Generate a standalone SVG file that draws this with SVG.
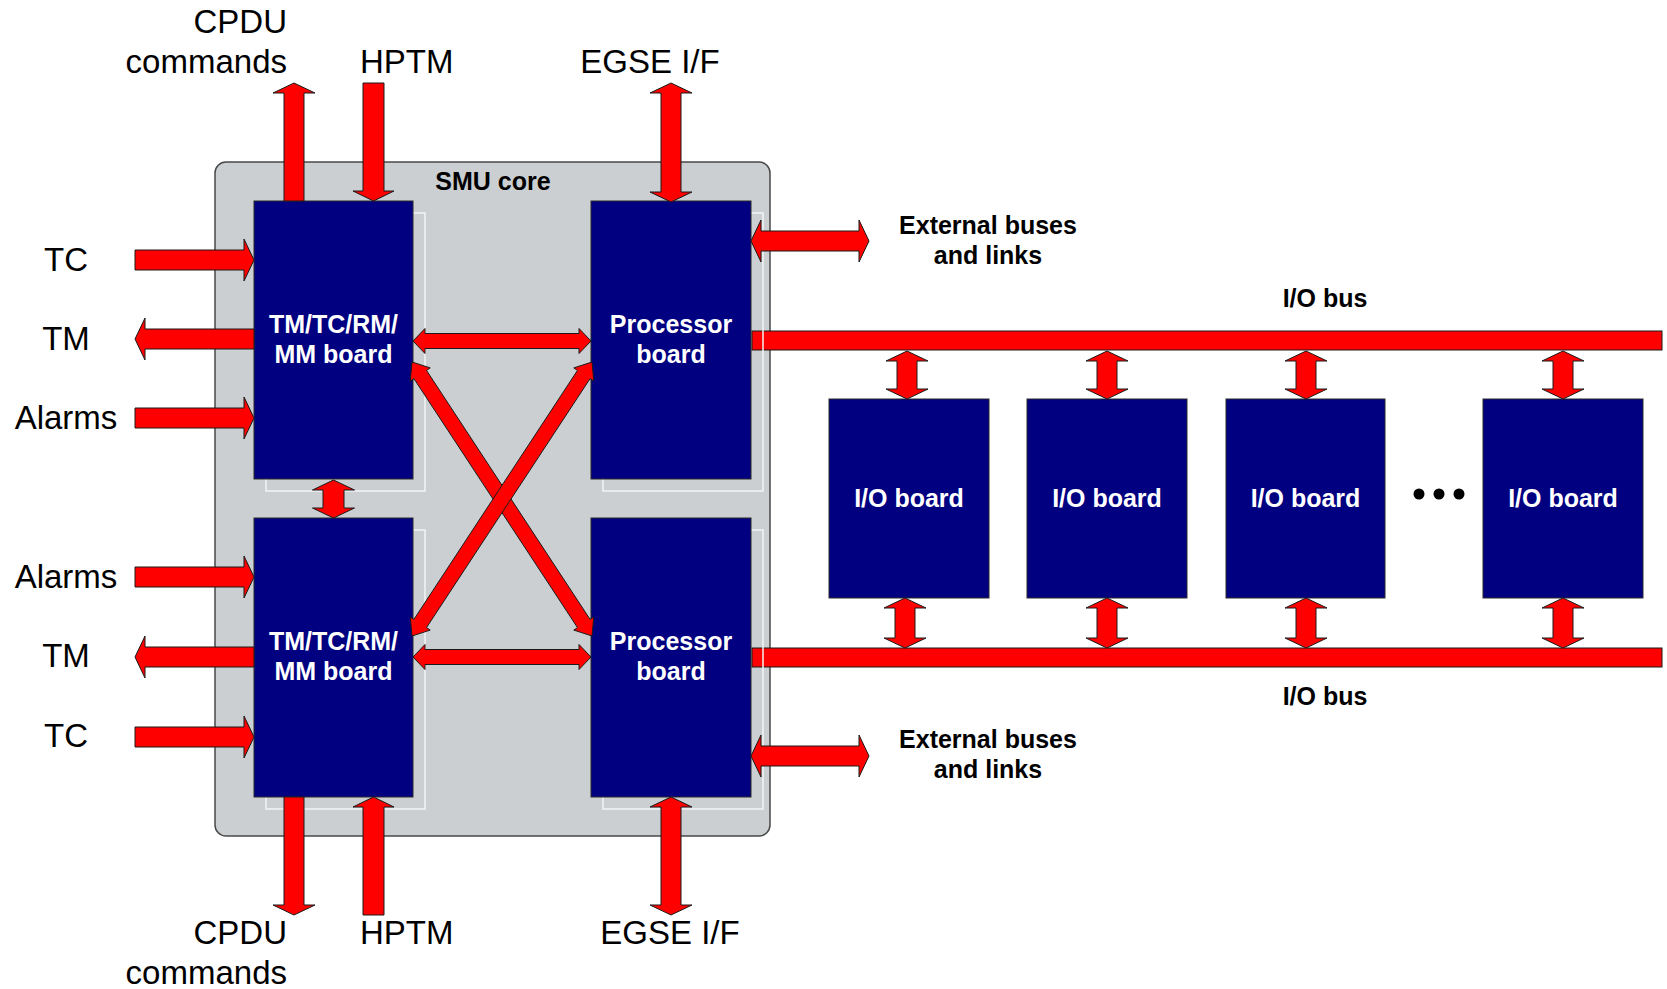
<svg xmlns="http://www.w3.org/2000/svg" width="1667" height="989" viewBox="0 0 1667 989">
<style>
.core{fill:#cbcfd1;stroke:#4a4a4a;stroke-width:1.5}
.board{fill:#000080;stroke:#2a2a2a;stroke-width:1}
.shadow{fill:none;stroke:#f4f4f4;stroke-width:1.5}
.arr{fill:#ff0000;stroke:#1a1a1a;stroke-width:1;stroke-linejoin:miter}
.bt{font-family:"Liberation Sans",Arial,sans-serif;font-weight:bold;font-size:25px;fill:#ffffff;text-anchor:middle}
.bl{font-family:"Liberation Sans",Arial,sans-serif;font-weight:bold;font-size:25px;fill:#000000;text-anchor:middle}
.lb{font-family:"Liberation Sans",Arial,sans-serif;font-size:33px;fill:#000000}
.mid{text-anchor:middle}
.end{text-anchor:end}
</style>
<rect width="1667" height="989" fill="#ffffff"/>

<g id="smu-core">
<rect class="core" x="215" y="162" width="555" height="674" rx="11"/>
<text class="bl" x="493" y="190">SMU core</text>
</g>

<g id="io-bus-top">
<rect class="arr" x="752" y="331" width="910" height="19"/>
<text class="bl" x="1325" y="307">I/O bus</text>
</g>
<g id="io-bus-bottom">
<rect class="arr" x="752" y="648" width="910" height="19"/>
<text class="bl" x="1325" y="705">I/O bus</text>
</g>

<g id="tm-board-1">
<rect class="shadow" x="266" y="213" width="159" height="278"/>
<rect class="board" x="254" y="201" width="159" height="278"/>
<text class="bt" x="333.5" y="333">TM/TC/RM/</text>
<text class="bt" x="333.5" y="363">MM board</text>
</g>
<g id="tm-board-2">
<rect class="shadow" x="266" y="530" width="159" height="279"/>
<rect class="board" x="254" y="518" width="159" height="279"/>
<text class="bt" x="333.5" y="650">TM/TC/RM/</text>
<text class="bt" x="333.5" y="680">MM board</text>
</g>
<g id="proc-board-1">
<rect class="shadow" x="603" y="213" width="160" height="278"/>
<rect class="board" x="591" y="201" width="160" height="278"/>
<text class="bt" x="671" y="333">Processor</text>
<text class="bt" x="671" y="363">board</text>
</g>
<g id="proc-board-2">
<rect class="shadow" x="603" y="530" width="160" height="279"/>
<rect class="board" x="591" y="518" width="160" height="279"/>
<text class="bt" x="671" y="650">Processor</text>
<text class="bt" x="671" y="680">board</text>
</g>

<g id="io-board-1">
<rect class="board" x="829" y="399" width="160" height="199"/>
<text class="bt" x="909" y="507">I/O board</text>
</g>
<g id="io-board-2">
<rect class="board" x="1027" y="399" width="160" height="199"/>
<text class="bt" x="1107" y="507">I/O board</text>
</g>
<g id="io-board-3">
<rect class="board" x="1226" y="399" width="159" height="199"/>
<text class="bt" x="1305.5" y="507">I/O board</text>
</g>
<g id="ellipsis">
<circle cx="1419" cy="494" r="5.5" fill="#000"/>
<circle cx="1439" cy="494" r="5.5" fill="#000"/>
<circle cx="1459" cy="494" r="5.5" fill="#000"/>
</g>
<g id="io-board-4">
<rect class="board" x="1483" y="399" width="160" height="199"/>
<text class="bt" x="1563" y="507">I/O board</text>
</g>

<g id="labels">
<text class="lb end" x="287" y="33">CPDU</text>
<text class="lb end" x="287" y="73">commands</text>
<text class="lb" x="360" y="73">HPTM</text>
<text class="lb mid" x="650" y="73">EGSE I/F</text>
<text class="lb mid" x="66" y="271">TC</text>
<text class="lb mid" x="66" y="350">TM</text>
<text class="lb mid" x="66" y="429">Alarms</text>
<text class="lb mid" x="66" y="588">Alarms</text>
<text class="lb mid" x="66" y="667">TM</text>
<text class="lb mid" x="66" y="747">TC</text>
<text class="lb end" x="287" y="944">CPDU</text>
<text class="lb end" x="287" y="984">commands</text>
<text class="lb" x="360" y="944">HPTM</text>
<text class="lb mid" x="670" y="944">EGSE I/F</text>
<text class="bl" x="988" y="234">External buses</text>
<text class="bl" x="988" y="264">and links</text>
<text class="bl" x="988" y="748">External buses</text>
<text class="bl" x="988" y="778">and links</text>
</g>

<g id="connectors">
<polygon class="arr" points="294,83 315,93 304,93 304,201 284,201 284,93 273,93"/>
<polygon class="arr" points="373.5,201 394,191 384,191 384,83 363,83 363,191 353,191"/>
<polygon class="arr" points="671,83 692,93 681,93 681,192 692,192 671,202 650,192 661,192 661,93 650,93"/>
<polygon class="arr" points="294,915 315,905 304,905 304,797 284,797 284,905 273,905"/>
<polygon class="arr" points="373.5,797 394,807 384,807 384,915 363,915 363,807 353,807"/>
<polygon class="arr" points="671,797 692,807 681,807 681,905 692,905 671,915 650,905 661,905 661,807 650,807"/>
<polygon class="arr" points="254,260 244,239 244,250 135,250 135,270 244,270 244,281"/>
<polygon class="arr" points="135,339 145,318 145,329 254,329 254,349 145,349 145,360"/>
<polygon class="arr" points="254,418 244,397 244,408 135,408 135,428 244,428 244,439"/>
<polygon class="arr" points="254,577 244,556 244,567 135,567 135,587 244,587 244,598"/>
<polygon class="arr" points="135,657 145,636 145,647 254,647 254,667 145,667 145,678"/>
<polygon class="arr" points="254,737 244,716 244,727 135,727 135,747 244,747 244,758"/>
<polygon class="arr" points="751,241 761,220 761,231 859,231 859,220 869,241 859,262 859,251 761,251 761,262"/>
<polygon class="arr" points="751,756 761,735 761,746 859,746 859,735 869,756 859,777 859,766 761,766 761,777"/>
<polygon class="arr" points="333.5,480 354.5,490 344,490 344,508 354.5,508 333.5,518 312.5,508 323,508 323,490 312.5,490"/>
<polygon class="arr" points="413,341 425,328.5 425,333.5 579,333.5 579,328.5 591,341 579,353.5 579,348.5 425,348.5 425,353.5"/>
<polygon class="arr" points="413,657 425,644.5 425,649.5 579,649.5 579,644.5 591,657 579,669.5 579,664.5 425,664.5 425,669.5"/>
<polygon class="arr" points="412,362 410.2,381.1 413.9,378.6 577.5,627.6 573.8,630.1 592,636 593.8,616.9 590.1,619.4 426.5,370.4 430.2,367.9"/>
<polygon class="arr" points="592,362 593.8,381.1 590.1,378.6 426.5,627.6 430.2,630.1 412,636 410.2,616.9 413.9,619.4 577.5,370.4 573.8,367.9"/>
<polygon class="arr" points="907,351 928,361 917,361 917,389 928,389 907,399 886,389 897,389 897,361 886,361"/>
<polygon class="arr" points="1107,351 1128,361 1117,361 1117,389 1128,389 1107,399 1086,389 1097,389 1097,361 1086,361"/>
<polygon class="arr" points="1306,351 1327,361 1316,361 1316,389 1327,389 1306,399 1285,389 1296,389 1296,361 1285,361"/>
<polygon class="arr" points="1563,351 1584,361 1573,361 1573,389 1584,389 1563,399 1542,389 1553,389 1553,361 1542,361"/>
<polygon class="arr" points="905,598 926,608 915,608 915,638 926,638 905,648 884,638 895,638 895,608 884,608"/>
<polygon class="arr" points="1107,598 1128,608 1117,608 1117,638 1128,638 1107,648 1086,638 1097,638 1097,608 1086,608"/>
<polygon class="arr" points="1306,598 1327,608 1316,608 1316,638 1327,638 1306,648 1285,638 1296,638 1296,608 1285,608"/>
<polygon class="arr" points="1563,598 1584,608 1573,608 1573,638 1584,638 1563,648 1542,638 1553,638 1553,608 1542,608"/>
</g>
</svg>
